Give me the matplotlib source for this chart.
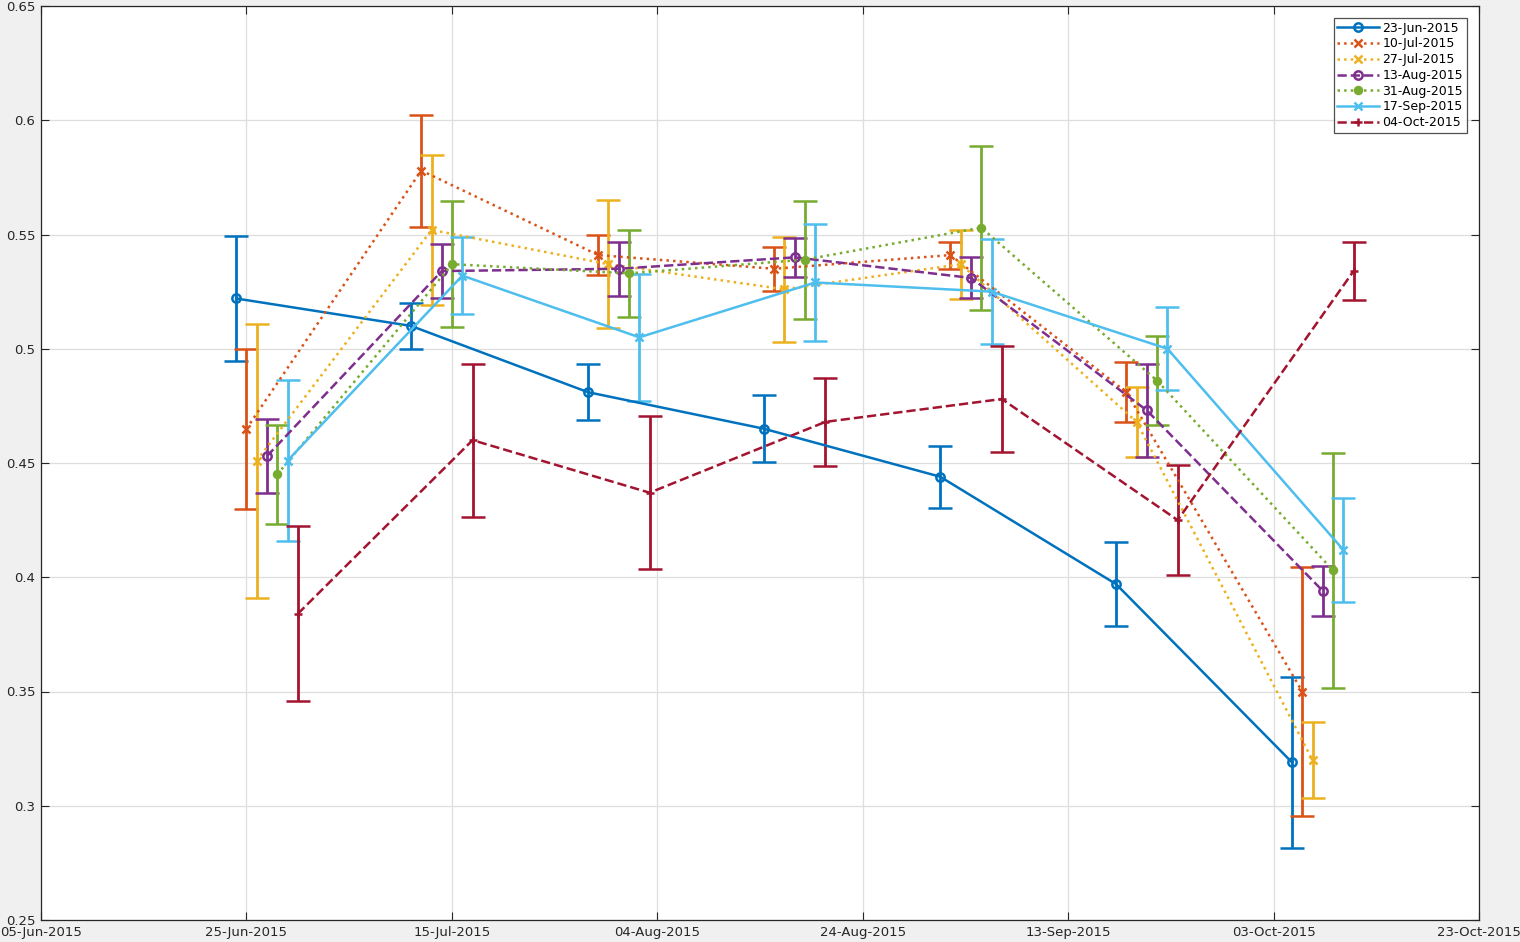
import numpy as np
import pandas as pd
import matplotlib
matplotlib.use("Agg")
import matplotlib.pyplot as plt
import matplotlib.dates as mdates
from matplotlib.ticker import FixedLocator, FuncFormatter

# group dates (first series position), each series is shifted by one day
group_dates = ["2015-06-24 00:00", "2015-07-11 00:30", "2015-07-28 06:00", "2015-08-14 09:00",
               "2015-08-31 13:00", "2015-09-17 16:00", "2015-10-04 19:00"]

series_names = ["23-Jun-2015", "10-Jul-2015", "27-Jul-2015", "13-Aug-2015",
                "31-Aug-2015", "17-Sep-2015", "04-Oct-2015"]

# mean values per series (one per group)
v_23jun = [0.522, 0.510, 0.481, 0.465, 0.444, 0.397, 0.319]
v_10jul = [0.465, 0.578, 0.541, 0.535, 0.541, 0.481, 0.350]
v_27jul = [0.451, 0.552, 0.537, 0.526, 0.537, 0.468, 0.320]
v_13aug = [0.453, 0.534, 0.535, 0.540, 0.531, 0.473, 0.394]
v_31aug = [0.445, 0.537, 0.533, 0.539, 0.553, 0.486, 0.403]
v_17sep = [0.451, 0.532, 0.505, 0.529, 0.525, 0.500, 0.412]
v_04oct = [0.384, 0.460, 0.437, 0.468, 0.478, 0.425, 0.534]

# error bar half-widths
e_23jun = [0.0272, 0.0100, 0.0122, 0.0146, 0.0136, 0.0185, 0.0374]
e_10jul = [0.0350, 0.0245, 0.0088, 0.0097, 0.0059, 0.0130, 0.0544]
e_27jul = [0.0600, 0.0330, 0.0280, 0.0230, 0.0151, 0.0154, 0.0165]
e_13aug = [0.0162, 0.0119, 0.0117, 0.0086, 0.0090, 0.0203, 0.0111]
e_31aug = [0.0215, 0.0276, 0.0190, 0.0258, 0.0359, 0.0194, 0.0514]
e_17sep = [0.0352, 0.0168, 0.0278, 0.0257, 0.0229, 0.0182, 0.0227]
e_04oct = [0.0383, 0.0335, 0.0336, 0.0194, 0.0232, 0.0242, 0.0127]

values = [v_23jun, v_10jul, v_27jul, v_13aug, v_31aug, v_17sep, v_04oct]
errors = [e_23jun, e_10jul, e_27jul, e_13aug, e_31aug, e_17sep, e_04oct]

colors = ["#0072BD", "#D95319", "#EDB120", "#7E2F8E", "#77AC30", "#4DBEEE", "#A2142F"]
styles = ["-", ":", ":", "--", ":", "-", "--"]
markers = ["o", "x", "x", "o", "o", "x", "+"]
mfill = ["none", None, None, "none", None, None, None]

base = pd.to_datetime(group_dates)

fig = plt.figure(figsize=(15.2, 9.42), dpi=100, facecolor="#f0f0f0")
ax = fig.add_axes([41/1520, 22/942, (1479-41)/1520, (920-6)/942])
ax.set_facecolor("white")

handles = []
for i in range(len(series_names)):
    x = base + pd.Timedelta(days=i)
    kw = dict(color=colors[i], linestyle=styles[i], marker=markers[i], markersize=6,
              markeredgewidth=1.8, linewidth=1.8, ecolor=colors[i], elinewidth=2,
              capsize=8.5, capthick=2, label=series_names[i])
    if mfill[i] == "none":
        kw["markerfacecolor"] = "none"
    if markers[i] == "o" and mfill[i] is None:
        kw["markersize"] = 5
    eb = ax.errorbar(x, values[i], yerr=errors[i], **kw)
    handles.append(eb.lines[0])

ax.set_ylim(0.25, 0.65)
ax.set_xlim(pd.Timestamp("2015-06-05"), pd.Timestamp("2015-10-23"))
xt = pd.date_range("2015-06-05", "2015-10-23", freq="20D")
ax.xaxis.set_major_locator(FixedLocator(mdates.date2num(xt)))
ax.xaxis.set_major_formatter(mdates.DateFormatter("%d-%b-%Y"))
ax.set_yticks(np.arange(0.25, 0.651, 0.05))
ax.yaxis.set_major_formatter(FuncFormatter(lambda v, p: "%g" % round(v, 2)))

ax.grid(True, color="#dedede", linewidth=0.9)
ax.set_axisbelow(True)
ax.tick_params(direction="in", length=6, width=0.8, top=True, right=True,
               labelsize=9.5, colors="#262626", pad=4)
for s in ax.spines.values():
    s.set_color("#262626")
    s.set_linewidth(0.9)

leg = ax.legend(handles=handles, labels=series_names, loc="upper right",
                bbox_to_anchor=(0.9915, 0.987), fontsize=9, frameon=True, fancybox=False,
                edgecolor="#262626", handlelength=3.3, borderpad=0.3, labelspacing=0.22,
                handletextpad=0.3, borderaxespad=0)
leg.get_frame().set_linewidth(0.9)

fig.savefig("out.png", dpi=100, facecolor=fig.get_facecolor())
